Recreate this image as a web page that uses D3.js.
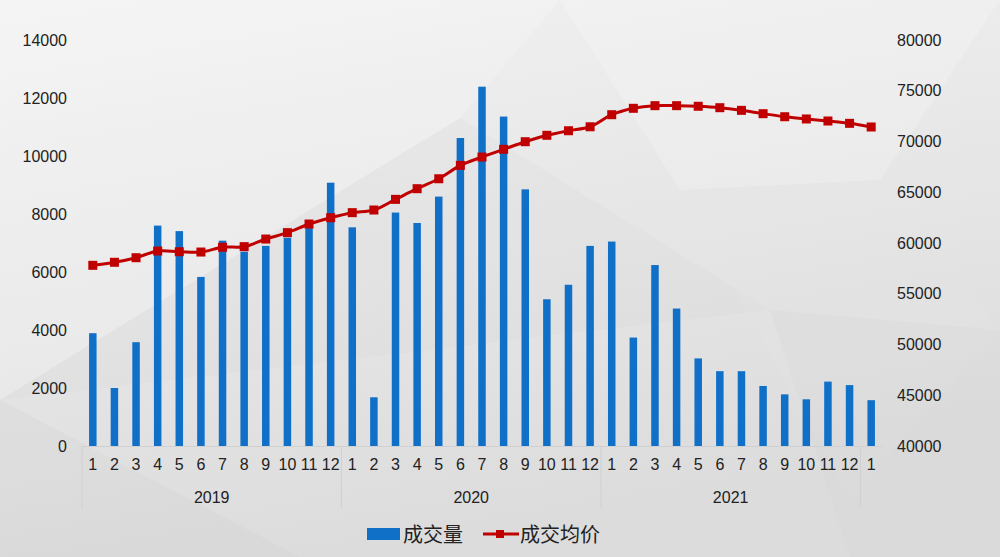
<!DOCTYPE html>
<html><head><meta charset="utf-8">
<script src="https://cdn.jsdelivr.net/npm/d3@7"></script>
<style>body{margin:0;}svg{display:block;}</style>
</head><body>
<svg id="c" width="1000" height="557"></svg>
<script>
const years = ["2019","2020","2021",""];
const months = [1,2,3,4,5,6,7,8,9,10,11,12,1,2,3,4,5,6,7,8,9,10,11,12,1,2,3,4,5,6,7,8,9,10,11,12,1];
const monthYear = [0,0,0,0,0,0,0,0,0,0,0,0,1,1,1,1,1,1,1,1,1,1,1,1,2,2,2,2,2,2,2,2,2,2,2,2,3];
const volume = [3890,2000,3580,7600,7410,5830,7080,6700,6900,7180,7560,9080,
                7540,1680,8050,7690,8600,10620,12390,11360,8850,5060,5560,6900,
                7050,3740,6240,4740,3020,2580,2580,2070,1780,1610,2220,2100,1580];
const price = [57800,58100,58550,59210,59140,59110,59580,59640,60390,61020,61870,62490,
               62990,63250,64300,65350,66330,67650,68470,69230,69980,70610,71060,71450,
               72640,73270,73530,73530,73470,73330,73070,72740,72440,72220,72020,71790,71430];
const leftTicks = [0,2000,4000,6000,8000,10000,12000,14000];
const rightTicks = [40000,45000,50000,55000,60000,65000,70000,75000,80000];
const seriesNames = ["成交量","成交均价"];

const svg = d3.select("#c");
const W = 1000, H = 557;
const defs = svg.append("defs");
const g1 = defs.append("linearGradient").attr("id","bg").attr("x1",0).attr("y1",0).attr("x2",0.3).attr("y2",1);
g1.append("stop").attr("offset","0%").attr("stop-color","#f2f2f2");
g1.append("stop").attr("offset","100%").attr("stop-color","#dcdcdc");
svg.append("rect").attr("width",W).attr("height",H).attr("fill","url(#bg)");
// faint low-poly background facets
const polys = [
  [[0,110],[460,118],[0,400]],
  [[460,118],[770,310],[0,400]],
  [[0,0],[560,0],[460,118],[0,110]],
  [[560,0],[1000,0],[880,180],[680,190]],
  [[680,190],[880,180],[1000,330],[850,500]],
  [[0,400],[300,557],[0,557]],
  [[770,310],[1000,330],[1000,557],[850,557]]
];
const pf = ["#ffffff","#d8d8d8","#ffffff","#ffffff","#e8e8e8","#cfcfcf","#d4d4d4"];
polys.forEach((p,i)=>svg.append("path").attr("d","M"+p.join("L")+"Z").attr("fill",pf[i]).attr("opacity",0.2));

const x0 = 82, x1 = 882, yTop = 40, yBase = 446;
const x = d3.scaleBand().domain(d3.range(months.length)).range([x0,x1]).paddingInner(0).paddingOuter(0);
const yL = d3.scaleLinear().domain([0,14000]).range([yBase,yTop]);
const yR = d3.scaleLinear().domain([40000,80000]).range([yBase,yTop]);
const font = "'Liberation Sans', Arial, sans-serif";
const fs = 16;

// left axis
const la = svg.append("g").attr("transform",`translate(${x0},0)`)
  .call(d3.axisLeft(yL).tickValues(leftTicks).tickSize(0).tickPadding(15).tickFormat(d3.format("d")));
la.select(".domain").remove();
la.selectAll("text").attr("font-family",font).attr("font-size",fs).attr("fill","#222");
// right axis
const ra = svg.append("g").attr("transform",`translate(${x1},0)`)
  .call(d3.axisRight(yR).tickValues(rightTicks).tickSize(0).tickPadding(15).tickFormat(d3.format("d")));
ra.select(".domain").remove();
ra.selectAll("text").attr("font-family",font).attr("font-size",fs).attr("fill","#222");

// bars
const bw = 7.5;
svg.append("g").selectAll("rect").data(volume).join("rect")
  .attr("x",(d,i)=>x(i)+x.bandwidth()/2-bw/2).attr("width",bw)
  .attr("y",d=>yL(d)).attr("height",d=>yBase-yL(d))
  .attr("fill","#1070c8");

// bottom axis
const ba = svg.append("g").attr("transform",`translate(0,${yBase})`)
  .call(d3.axisBottom(x).tickSize(0).tickPadding(13).tickFormat(i=>months[i]));
ba.select(".domain").attr("stroke","#d0d0d0");
ba.selectAll("text").attr("font-family",font).attr("font-size",fs).attr("fill","#222");
// year groups
const groups = d3.groups(d3.range(months.length), i=>monthYear[i]);
const sep = svg.append("g").attr("stroke","#d0d0d0").attr("stroke-width",1);
groups.forEach(([yi, idx])=>{
  const gs = x(idx[0]), ge = x(idx[idx.length-1])+x.bandwidth();
  if (yi < 3) {
    sep.append("line").attr("x1",gs).attr("x2",gs).attr("y1",yBase).attr("y2",508);
  }
  if (yi === 2) sep.append("line").attr("x1",ge).attr("x2",ge).attr("y1",yBase).attr("y2",508);
  if (years[yi]) svg.append("text").attr("x",(gs+ge)/2).attr("y",503).attr("text-anchor","middle")
    .attr("font-family",font).attr("font-size",fs).attr("fill","#222").text(years[yi]);
});

// line
const line = d3.line().x((d,i)=>x(i)+x.bandwidth()/2).y(d=>yR(d)).curve(d3.curveCatmullRom.alpha(0.5));
svg.append("path").datum(price).attr("d",line).attr("fill","none").attr("stroke","#c00000").attr("stroke-width",3);
const ms = 9;
svg.append("g").selectAll("rect").data(price).join("rect")
  .attr("x",(d,i)=>x(i)+x.bandwidth()/2-ms/2).attr("y",d=>yR(d)-ms/2)
  .attr("width",ms).attr("height",ms).attr("fill","#c00000");

// legend
const cjk = "'Noto Sans CJK SC', sans-serif";
const lg = svg.append("g");
lg.append("rect").attr("x",367).attr("y",528).attr("width",33).attr("height",12).attr("fill","#1070c8");
lg.append("text").attr("x",403).attr("y",542).attr("font-family",cjk).attr("font-size",20).attr("fill","#222").text(seriesNames[0]);
lg.append("line").attr("x1",483).attr("x2",519).attr("y1",534).attr("y2",534).attr("stroke","#c00000").attr("stroke-width",3);
lg.append("rect").attr("x",496).attr("y",530).attr("width",8).attr("height",8).attr("fill","#c00000");
lg.append("text").attr("x",520).attr("y",542).attr("font-family",cjk).attr("font-size",20).attr("fill","#222").text(seriesNames[1]);
</script>
</body></html>
